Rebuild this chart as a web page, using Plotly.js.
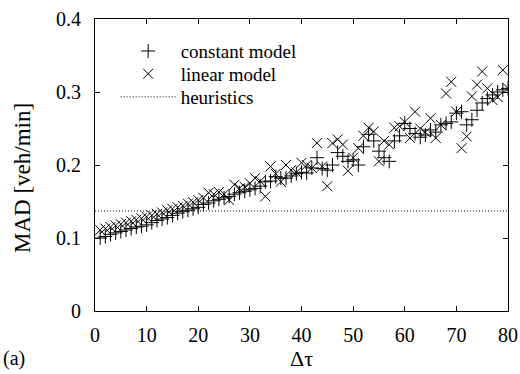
<!DOCTYPE html>
<html>
<head>
<meta charset="utf-8">
<script src="https://cdn.plot.ly/plotly-3.0.1.min.js"></script>
<style>html,body{margin:0;padding:0;background:#fff;}#chart{width:520px;height:374px;}</style>
</head>
<body>
<div id="chart"></div>
<script>
// Delta tau values
var dtau = [];
for (var i = 1; i <= 80; i++) dtau.push(i);

var constantModel = [
  0.100,0.102,0.105,0.107,0.109,0.111,0.113,0.115,0.116,0.118,
  0.121,0.124,0.126,0.128,0.131,0.134,0.136,0.138,0.140,0.142,
  0.146,0.148,0.151,0.153,0.155,0.157,0.160,0.162,0.164,0.166,
  0.168,0.171,0.177,0.178,0.184,0.182,0.182,0.185,0.188,0.190,
  0.189,0.196,0.210,0.195,0.193,0.200,0.217,0.212,0.205,0.207,
  0.200,0.225,0.242,0.233,0.219,0.210,0.205,0.233,0.240,0.257,
  0.250,0.243,0.238,0.241,0.248,0.245,0.255,0.257,0.259,0.271,
  0.273,0.255,0.262,0.275,0.285,0.291,0.296,0.300,0.303,0.305
];

var linearModel = [
  0.111,0.113,0.115,0.117,0.119,0.121,0.123,0.125,0.127,0.129,
  0.131,0.133,0.135,0.138,0.140,0.142,0.144,0.147,0.149,0.152,
  0.155,0.162,0.160,0.163,0.160,0.152,0.173,0.168,0.170,0.175,
  0.182,0.178,0.157,0.198,0.188,0.177,0.200,0.193,0.190,0.203,
  0.200,0.196,0.230,0.198,0.171,0.230,0.235,0.228,0.192,0.210,
  0.223,0.240,0.251,0.246,0.205,0.233,0.228,0.251,0.253,0.259,
  0.237,0.273,0.250,0.245,0.264,0.237,0.255,0.298,0.314,0.273,
  0.223,0.239,0.294,0.310,0.328,0.305,0.289,0.293,0.330,0.305
];

var heuristicX = [0, 80];
var heuristicY = [0.137, 0.137];

var fontFam = 'Liberation Serif';

var traces = [
  {x: dtau, y: constantModel, type: 'scatter', mode: 'markers', name: 'constant model', legend: 'legend',
   marker: {symbol: 'cross-thin-open', size: 10, color: '#000', line: {color: '#000', width: 1}}},
  {x: dtau, y: linearModel, type: 'scatter', mode: 'markers', name: 'linear model', legend: 'legend2',
   marker: {symbol: 'x-thin-open', size: 10, color: '#000', line: {color: '#000', width: 1}}},
  {x: heuristicX, y: heuristicY, type: 'scatter', mode: 'lines', name: 'heuristics', legend: 'legend3',
   line: {color: '#000', width: 1, dash: '1px,2px'}}
];

function legendAt(yPaper) {
  return {x: 0.05, y: yPaper, xanchor: 'left', yanchor: 'middle', bgcolor: 'rgba(0,0,0,0)',
          borderwidth: 0, font: {family: fontFam, size: 19, color: '#000'}, itemwidth: 55};
}

var layout = {
  width: 520, height: 374,
  margin: {l: 95, r: 12, t: 19, b: 63},
  paper_bgcolor: '#fff', plot_bgcolor: '#fff',
  font: {family: fontFam, size: 20, color: '#000'},
  showlegend: true,
  legend: legendAt(0.890),
  legend2: legendAt(0.812),
  legend3: legendAt(0.733),
  xaxis: {range: [0, 80], dtick: 10, tick0: 0, ticks: 'inside', ticklen: 5, tickcolor: '#000',
          showline: true, linecolor: '#000', linewidth: 1, mirror: 'ticks', showgrid: false,
          zeroline: false, ticklabelstandoff: 6,
          tickfont: {family: fontFam, size: 20, color: '#000'}},
  yaxis: {range: [0, 0.4], dtick: 0.1, tick0: 0, ticks: 'inside', ticklen: 5, tickcolor: '#000',
          showline: true, linecolor: '#000', linewidth: 1, mirror: 'ticks', showgrid: false,
          zeroline: false, ticklabelstandoff: 9,
          tickfont: {family: fontFam, size: 20, color: '#000'}},
  annotations: [
    {text: 'MAD [veh/min]', xref: 'paper', yref: 'paper', x: -0.177, y: 0.455, textangle: -90,
     xanchor: 'center', yanchor: 'middle', showarrow: false,
     font: {family: fontFam, size: 23, color: '#000'}},
    {text: 'Δτ', xref: 'paper', yref: 'paper', x: 0.5, y: -0.163, xanchor: 'center', yanchor: 'middle',
     showarrow: false, font: {family: fontFam, size: 22, color: '#000'}},
    {text: '(a)', xref: 'paper', yref: 'paper', x: -0.227, y: -0.161, xanchor: 'left', yanchor: 'middle',
     showarrow: false, font: {family: fontFam, size: 20, color: '#000'}}
  ]
};

Plotly.newPlot('chart', traces, layout, {displayModeBar: false, staticPlot: true});
</script>
</body>
</html>
